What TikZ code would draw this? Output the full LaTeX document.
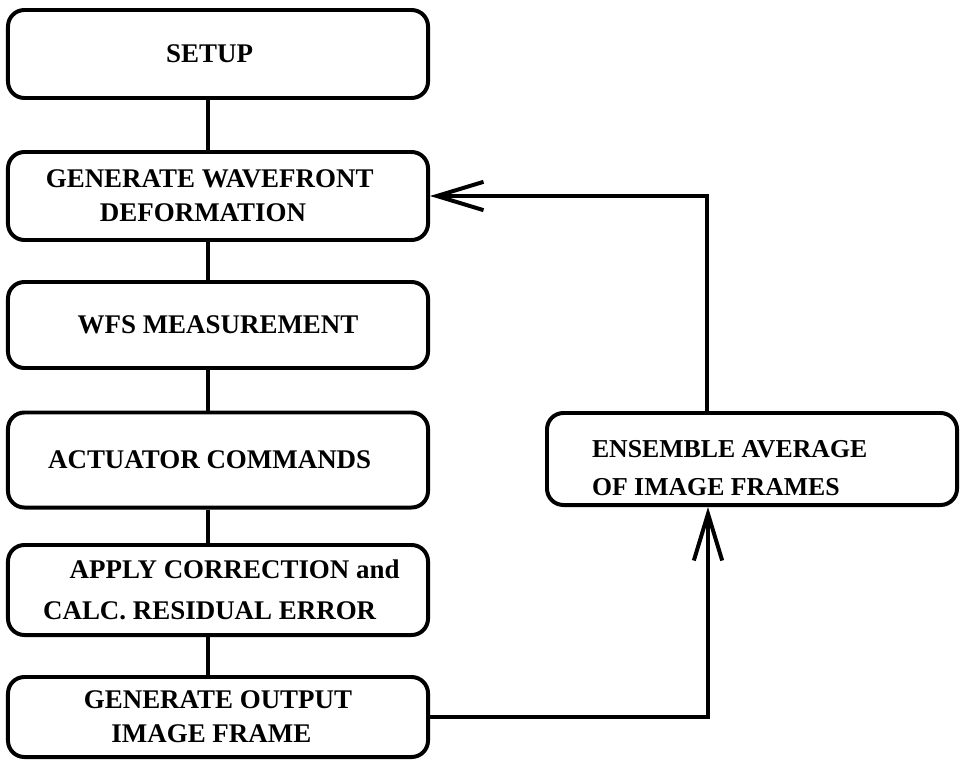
\documentclass[tikz,border=0pt]{standalone}
\usepackage{fontspec}
\setmainfont{Liberation Serif}
\usetikzlibrary{arrows.meta, positioning}
\tikzset{
  every picture/.style={line width=3.4pt},
  stage/.style={draw, rounded corners=14pt, minimum width=12.6cm, align=center, inner sep=0pt, font=\fontsize{23}{29}\selectfont\bfseries},
  caption/.style={align=left, inner sep=0pt, font=\fontsize{22}{33}\selectfont\bfseries},
  back/.style={-{Straight Barb[length=1.4cm, width=0.85cm]}},
}

\begin{document}
\begin{tikzpicture}[x=0.03cm, y=-0.03cm]
  \useasboundingbox (0,0) rectangle (962,760);
  % main chain
  \node[stage, minimum height=2.64cm] (setup) at (218,54) {SETUP\hspace*{0.5cm}};
  \node[stage, minimum height=2.64cm] (wave) at (218,196) {GENERATE WAVEFRONT\hspace*{0.5cm}\\DEFORMATION\hspace*{0.9cm}};
  \node[stage, minimum height=2.58cm] (wfs) at (218,325) {WFS MEASUREMENT};
  \node[stage, minimum height=2.85cm] (act) at (218,460) {ACTUATOR COMMANDS\hspace*{0.5cm}};
  \node[stage, minimum height=2.7cm, font=\fontsize{23}{35}\selectfont\bfseries] (apply) at (218,590) {\hspace*{1.0cm}APPLY CORRECTION and\\CALC. RESIDUAL ERROR\hspace*{0.5cm}};
  \node[stage, minimum height=2.4cm] (out) at (218,717) {GENERATE OUTPUT\\IMAGE FRAME\hspace*{0.4cm}};
  \foreach \a/\b in {setup/wave, wave/wfs, wfs/act, act/apply, apply/out}
    \draw ([xshift=-0.3cm]\a.south) -- ([xshift=-0.3cm]\b.north);
  % averaging loop
  \node[stage, minimum width=12.3cm, minimum height=2.76cm] (ens) at (752,459) {};
  \node[caption, anchor=west] (enstext) at (590,468) {ENSEMBLE AVERAGE\\OF IMAGE FRAMES};
  \draw[back] (out.east) -| ([xshift=-1.32cm]ens.south);
  \draw[back] ([xshift=-1.35cm]ens.north) |- (wave.east);
\end{tikzpicture}
\end{document}
